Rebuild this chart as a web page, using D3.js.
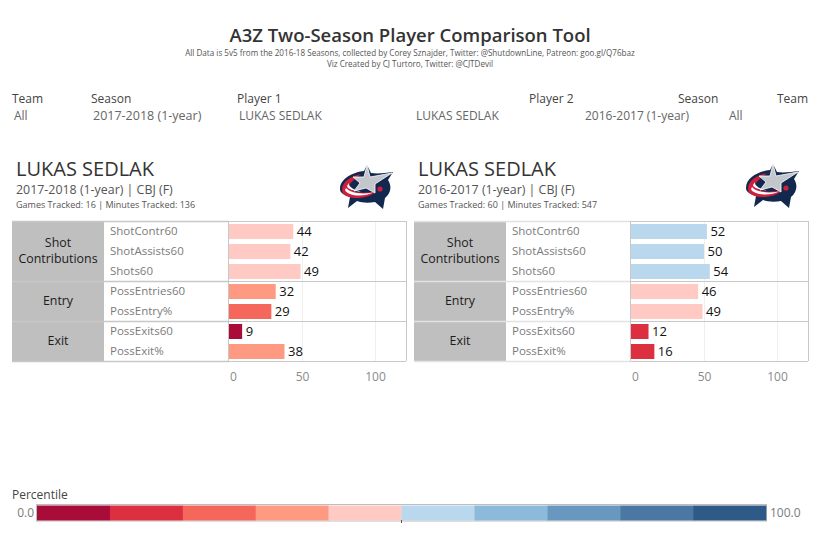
<!DOCTYPE html>
<html><head><meta charset="utf-8">
<script src="https://cdn.jsdelivr.net/npm/d3@7"></script>
<style>html,body{margin:0;background:#fff}svg{display:block}text{font-family:"Open Sans","Noto Sans",sans-serif}</style>
</head><body><svg id="c" width="819" height="559"></svg>
<script>
const metricGroups = ["Shot Contributions","Entry","Exit"];
const metricNames = ["ShotContr60","ShotAssists60","Shots60","PossEntries60","PossEntry%","PossExits60","PossExit%"];
const metricGroupOf = [0,0,0,1,1,2,2];
const player1Values = [44,42,49,32,29,9,38];
const player2Values = [52,50,54,46,49,12,16];
const axisTicks = [0,50,100];
const binColors = ["#a90c38","#dc3041","#f4675a","#ff9a82","#ffcac3","#b9d8ee","#8dbadb","#6898c0","#4a77a3","#2d5a87"];
const binEdges = [10,20,30,40,50,60,70,80,90];

const svg = d3.select("#c");
const ink="#333333", soft="#555555", grey="#7b7b7b", rule="#c8c8c8";
const color = d3.scaleThreshold().domain(binEdges).range(binColors);
const txt=(x,y,s,size,fill,anchor="start",g=svg)=>g.append("text").attr("x",x).attr("y",y).attr("font-size",size).attr("fill",fill).attr("text-anchor",anchor).text(s);

txt(410,42,"A3Z Two-Season Player Comparison Tool",18.5,ink,"middle").attr("font-weight",600);
txt(410,56,"All Data is 5v5 from the 2016-18 Seasons, collected by Corey Sznajder, Twitter: @ShutdownLine, Patreon: goo.gl/Q76baz",8.1,soft,"middle");
txt(410,67,"Viz Created by CJ Turtoro, Twitter: @CJTDevil",8.1,soft,"middle");

[[12,"Team"],[91,"Season"],[237,"Player 1"],[529,"Player 2"],[678,"Season"],[777,"Team"]].forEach(d=>txt(d[0],103,d[1],12,"#444"));
[[14,"All"],[93,"2017-2018 (1-year)"],[239,"LUKAS SEDLAK"],[416,"LUKAS SEDLAK"],[585,"2016-2017 (1-year)"],[729,"All"]].forEach((d,i)=>txt(d[0],120,d[1],i%5===1?12.5:12,"#666"));

function logo(g){
  g.append("path").attr("d","M-27 1C-27 -10 -13 -16 -3 -17L0 -23L4 -15C11 -14 18 -15 26 -16L21 -8C25 -2 24 5 18 10L16 21L8 14C2 15 -5 15 -10 13L-19 20L-17 9C-23 7 -27 5 -27 1Z").attr("fill","#13284f");
  g.append("path").attr("d","M-25 2C-25 -7 -15 -12 -6 -14C-12 -9 -18 -5 -18 -1C-15 5 -3 6 9 3C3 12 -25 13 -25 2Z").attr("fill","#cf1f3a");
  g.append("path").attr("d","M-21 0C-18 4 -8 7 6 4.5C-3 9.5 -20 8 -22 2ZM-18 -5C-19 -2 -14 2 -6 3.5C-12 3.5 -20 1 -20 -2Z").attr("fill","#fff");
  g.append("path").attr("d","M0 -23L3 -11L25 -15L8 -4L8 5L-1 0L-13 3L-7 -5L-14 -11L-3 -11Z").attr("fill","#c3c7cc").attr("stroke","#fff").attr("stroke-width",0.8);
  g.append("circle").attr("cx",13).attr("cy",1).attr("r",2.6).attr("fill","#cf1f3a");
}

function panel(x0,title,sub,stats,values,zero,leftRule){
  txt(x0+4,176,title,20,ink).attr("font-weight",500);
  txt(x0+4,194,sub,12.4,soft);
  txt(x0+4,208,stats,9,soft);
  const rowH=20, top=221;
  const y=d3.scaleBand().domain(d3.range(values.length)).range([top,top+rowH*values.length]);
  const x=d3.scaleLinear().domain([0,120]).range([zero,zero+175.2]);
  const g=svg.append("g");
  g.selectAll("line.grid").data(axisTicks.slice(1)).join("line").attr("x1",d=>Math.round(x(d))+.5).attr("x2",d=>Math.round(x(d))+.5).attr("y1",top).attr("y2",top+140).attr("stroke","#efefef");
  metricGroups.forEach((name,i)=>{
    const idx=d3.range(values.length).filter(k=>metricGroupOf[k]===i);
    const a=y(idx[0]), b=y(idx[idx.length-1])+rowH;
    g.append("rect").attr("x",x0).attr("y",a).attr("width",92).attr("height",b-a).attr("fill","#bfbfbf");
    const t=g.append("text").attr("text-anchor","middle").attr("font-size",12.4).attr("fill","#1c1c1c");
    const words=name==="Shot Contributions"?["Shot","Contributions"]:[name];
    words.forEach((w,j)=>t.append("tspan").attr("x",x0+46).attr("y",(a+b)/2+4-(words.length-1)*8+j*16).text(w));
  });
  g.selectAll("rect.bar").data(values).join("rect").attr("class","bar").attr("x",x(0)).attr("y",(d,i)=>y(i)+3).attr("height",15).attr("width",d=>x(d)-x(0)).attr("fill",d=>color(d));
  g.selectAll("text.lab").data(metricNames).join("text").attr("class","lab").attr("x",x0+98).attr("y",(d,i)=>y(i)+14).attr("font-size",11.5).attr("fill",grey).text(d=>d);
  g.selectAll("text.val").data(values).join("text").attr("class","val").attr("x",d=>x(d)+3.5).attr("y",(d,i)=>y(i)+15).attr("font-size",13).attr("fill","#111").text(d=>d);
  [top,top+60,top+100,top+140].forEach(v=>{
    g.append("line").attr("x1",x0).attr("x2",zero).attr("y1",v+.5).attr("y2",v+.5).attr("stroke",leftRule).attr("stroke-width",1.5);
    g.append("line").attr("x1",zero).attr("x2",x0+394).attr("y1",v+.5).attr("y2",v+.5).attr("stroke",rule);
  });
  g.append("line").attr("x1",x0+394.5).attr("x2",x0+394.5).attr("y1",top).attr("y2",top+140).attr("stroke",rule);
  g.append("line").attr("x1",zero-.5).attr("x2",zero-.5).attr("y1",top).attr("y2",top+140).attr("stroke",rule);
  const ax=g.append("g").attr("transform",`translate(0,${top+140})`).call(d3.axisBottom(x).tickValues(axisTicks).tickSize(0).tickPadding(11));
  ax.select(".domain").remove();
  ax.selectAll("text").attr("font-size",12).attr("fill","#8a8a8a").attr("font-family",'"Open Sans",sans-serif').attr("dx",d=>d===0?4:0);
}
panel(12,"LUKAS SEDLAK","2017-2018 (1-year) | CBJ (F)","Games Tracked: 16  | Minutes Tracked: 136",player1Values,229,rule);
panel(414,"LUKAS SEDLAK","2016-2017 (1-year) | CBJ (F)","Games Tracked: 60  | Minutes Tracked: 547",player2Values,631,"#e2e2e2");
logo(svg.append("g").attr("transform","translate(367,188)"));
logo(svg.append("g").attr("transform","translate(773,187)"));

txt(12,499,"Percentile",12,"#444");
txt(34,517,"0.0",12,grey,"end");
txt(770,517,"100.0",12,grey);
const lx=d3.scaleBand().domain(d3.range(binColors.length)).range([37,766]);
svg.append("rect").attr("x",36.5).attr("y",504.5).attr("width",730).attr("height",16.5).attr("fill","none").attr("stroke","#bdbdbd");
svg.selectAll("rect.leg").data(binColors).join("rect").attr("class","leg").attr("x",(d,i)=>lx(i)).attr("y",505.5).attr("width",lx.bandwidth()+.3).attr("height",15).attr("fill",d=>d);
svg.append("line").attr("x1",401.5).attr("x2",401.5).attr("y1",520).attr("y2",523).attr("stroke","#555");
</script></body></html>
